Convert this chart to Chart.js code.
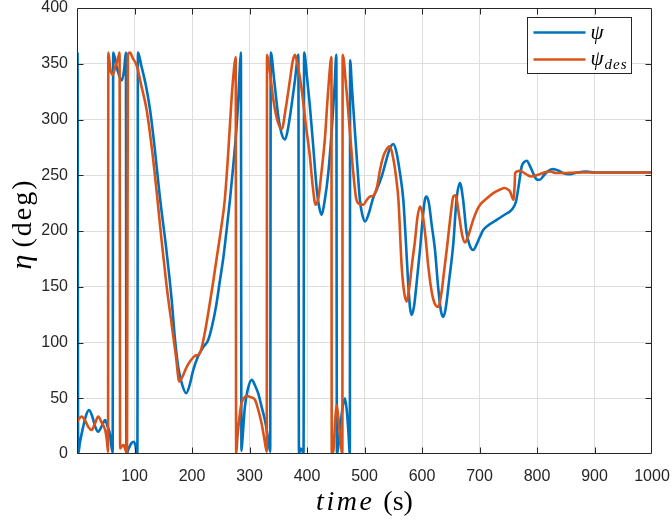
<!DOCTYPE html>
<html>
<head>
<meta charset="utf-8">
<script src="https://cdn.jsdelivr.net/npm/chart.js@4.4.0/dist/chart.umd.min.js"></script>
<style>
html, body { margin: 0; padding: 0; background: #fff; }
</style>
</head>
<body>
<canvas id="myChart" width="672" height="520"></canvas>
<script>
// psi (measured heading), wraps between 0 and 360
const psiTime = [1, 2, 5, 11, 16, 21, 27, 32, 37, 43, 49, 53, 57, 62, 63, 70, 78, 82, 85, 86, 90, 95, 99, 102, 105,
  106, 112, 120, 127, 135, 144, 155, 164.7, 170, 176, 183, 190, 196, 202, 210, 219.7, 228, 235, 242, 248.7, 255, 260, 266, 272, 277, 280.5, 283, 285,
  286, 288, 292, 297, 304, 310, 315, 321, 327, 331, 336,
  337, 343, 350, 356, 361.7, 367, 373, 379, 385,
  386, 389, 392, 394,
  395, 400, 405, 411, 417, 421, 425.5, 431, 437, 443, 448, 451,
  452, 454, 458, 462, 466, 469, 472, 474.5,
  475, 478, 483.5, 488, 492, 496, 501, 507, 515, 522, 530, 536, 541.4, 546, 550, 555, 561.7, 567.5, 572, 576, 579, 582, 586, 591, 596.5,
  601, 605, 608, 612, 617, 622.6, 628, 633, 637, 641, 647, 654.5, 660, 666, 671, 677.7, 683, 689, 695, 701, 706.6, 715, 730, 745, 756,
  763.5, 768, 773.4, 778, 782, 788, 795, 800, 805, 812, 820, 828, 838, 845, 857, 870, 886, 900, 1000];
const psiValues = [360, 0, 10, 25, 35, 39.5, 33, 24, 20, 25, 30.5, 25, 18.5, 1, 360, 345, 335, 345, 360, 0, 5, 10, 11, 7, 0,
  360, 348, 330, 309, 275, 231, 185, 138, 105, 78, 62, 54.5, 62, 75, 87, 96, 102, 115, 133, 156, 178, 200, 228, 260, 290, 318, 345, 360,
  3, 15, 42.5, 58, 66.5, 61, 54.5, 42.5, 30, 18, 2,
  360, 335, 303, 287, 282, 292, 312, 335, 358,
  0, 5, 3, 0,
  360, 338, 312, 275, 237, 222, 214.5, 228, 252, 290, 330, 358,
  0, 5, 25, 42, 50, 40, 20, 0,
  353, 330, 288, 255, 228, 215, 208.5, 215, 229.5, 238, 249, 260, 270, 276, 278, 272, 252, 228, 190, 153, 132, 124.8, 132, 155, 183,
  210, 228, 231, 225, 205, 183, 150, 128, 123, 130, 155, 189, 228, 243, 230, 198, 187, 183, 188, 195, 201, 205, 210, 215, 219,
  226.5, 240, 258, 262, 263, 258, 250, 246, 246, 250, 254, 255.5, 254, 252, 251, 252.5, 253.4, 252.5, 252.5];

// psi_des (desired heading)
const desTime = [0, 4, 8, 14, 20, 25.5, 31, 37, 43, 49, 52, 54,
  54.5, 58, 62, 67, 73, 74,
  75, 78, 81, 84, 87,
  88.5, 92, 97, 104, 112, 121, 130, 138.6, 147, 156, 165, 172, 178, 184, 190.7, 198, 205, 211, 215, 222, 230, 237, 243, 250, 257, 263, 269, 273, 276,
  276.8, 279, 283, 286, 290, 295, 302, 309.6, 315, 321, 326, 330,
  330.5, 335, 341.4, 348, 356, 363, 370.4, 375, 379, 384, 390.8, 398, 405, 410, 415, 420, 425, 431, 436, 441, 442.5,
  443, 446, 449, 451.6, 454, 457, 460, 461.5,
  462, 468, 474.8, 480, 486, 492, 498, 504, 509.6, 515, 522, 527, 532.7, 538, 544, 550, 555, 559, 564.7, 569, 573.4, 578, 583, 588, 592, 596.5,
  601, 606, 611, 617, 622, 628.4, 634, 638, 643, 650, 654.5, 658, 665, 670, 674.8, 680, 689, 695, 701, 712, 724, 735, 744, 750, 753, 757, 759,
  761, 762, 766, 770, 778, 784, 790, 796.5, 805, 815, 822.6, 833, 845.7, 870, 1000];
const desValues = [29, 32, 33.5, 30, 24, 21.5, 27, 33.5, 28, 21.5, 12, 2,
  360, 345, 340, 348, 358, 360,
  5, 7, 8, 4, 0.6,
  358, 360, 355, 348, 330, 309, 275, 235, 192, 150, 115, 88, 65, 70, 78, 84, 88, 89, 92, 108, 132, 155, 176, 200, 228, 270, 320, 345, 356,
  0, 15, 35, 45.5, 50, 52, 51, 48.5, 40, 27.5, 13, 2,
  358, 345, 318, 300, 291.5, 310, 335.7, 352, 358, 348, 326.7, 295, 267, 240, 223.5, 230, 252, 282, 320, 352, 356,
  0, 3.6, 30, 44, 35, 19, 3.6, 0,
  358, 330, 288, 255, 228, 224, 223.5, 228, 231, 231.6, 240, 255, 267, 273, 276, 265, 248, 228, 168, 145, 136.7, 150, 172, 192, 212, 222,
  215, 195, 168, 145, 135, 132, 145, 162, 183, 215, 231, 232, 212, 196, 189.7, 195, 210, 218, 223.5, 229, 234, 237, 238.5, 237, 235.5, 230, 228,
  240, 252, 253.5, 254, 252, 250, 249, 249.5, 251, 253, 253.4, 252, 252, 252.5, 252.5];

const blue = '#0072BD';
const orange = '#D95319';
const axisColor = '#262626';
const serif = "'Liberation Serif', 'DejaVu Serif', serif";

function toPoints(xs, ys) {
  return xs.map((x, i) => ({ x: x, y: ys[i] }));
}

// box with inward ticks on all four sides, like matlab "box on"
const framePlugin = {
  id: 'frame',
  afterDatasetsDraw(chart) {
    const { ctx, chartArea: a, scales } = chart;
    const l = Math.round(a.left) + 0.5, r = Math.round(a.right) - 0.5;
    const t = Math.round(a.top) + 0.5, b = Math.round(a.bottom) - 0.5;
    ctx.save();
    ctx.strokeStyle = axisColor;
    ctx.lineWidth = 1;
    ctx.beginPath();
    ctx.rect(l, t, r - l, b - t);
    for (let v = 100; v < 1000; v += 100) {
      const x = Math.round(scales.x.getPixelForValue(v)) + 0.5;
      ctx.moveTo(x, b); ctx.lineTo(x, b - 6);
      ctx.moveTo(x, t); ctx.lineTo(x, t + 6);
    }
    for (let v = 50; v < 400; v += 50) {
      const y = Math.round(scales.y.getPixelForValue(v)) + 0.5;
      ctx.moveTo(l, y); ctx.lineTo(l + 6, y);
      ctx.moveTo(r, y); ctx.lineTo(r - 6, y);
    }
    ctx.stroke();
    ctx.restore();
  }
};

// axis titles + legend, drawn by hand so the math-style italics and subscript work
const textPlugin = {
  id: 'texts',
  afterDraw(chart) {
    const { ctx, chartArea: a } = chart;
    ctx.save();
    ctx.fillStyle = '#000';
    ctx.textBaseline = 'alphabetic';

    // x title
    ctx.font = 'italic 28px ' + serif;
    ctx.letterSpacing = '2.5px';
    const w1 = ctx.measureText('time').width;
    ctx.font = '28px ' + serif;
    ctx.letterSpacing = '0px';
    const w2 = ctx.measureText('(s)').width;
    const gap = 9;
    let x0 = (a.left + a.right) / 2 - (w1 + gap + w2) / 2;
    ctx.font = 'italic 28px ' + serif;
    ctx.letterSpacing = '2.5px';
    ctx.fillText('time', x0, 510);
    ctx.font = '28px ' + serif;
    ctx.letterSpacing = '0px';
    ctx.fillText('(s)', x0 + w1 + gap, 510);

    // y title
    ctx.save();
    ctx.translate(31, 224);
    ctx.rotate(-Math.PI / 2);
    ctx.font = 'italic 30px ' + serif;
    const e1 = ctx.measureText('η').width;
    ctx.font = '28px ' + serif;
    ctx.letterSpacing = '2px';
    const e2 = ctx.measureText('(deg)').width;
    const g2 = 7;
    const y0 = -(e1 + g2 + e2) / 2;
    ctx.letterSpacing = '0px';
    ctx.font = 'italic 30px ' + serif;
    ctx.fillText('η', y0, 0);
    ctx.font = '28px ' + serif;
    ctx.letterSpacing = '2px';
    ctx.fillText('(deg)', y0 + e1 + g2, 0);
    ctx.restore();
    ctx.letterSpacing = '0px';

    // legend
    const bx = Math.round(a.right) - 124.5, by = Math.round(a.top) + 9.5;
    const bw = 104, bh = 56;
    ctx.fillStyle = '#fff';
    ctx.fillRect(bx, by, bw, bh);
    ctx.strokeStyle = axisColor;
    ctx.lineWidth = 1;
    ctx.strokeRect(bx, by, bw, bh);
    ctx.lineWidth = 2.6;
    ctx.lineCap = 'butt';
    ctx.strokeStyle = blue;
    ctx.beginPath(); ctx.moveTo(bx + 6, by + 15); ctx.lineTo(bx + 58, by + 15); ctx.stroke();
    ctx.strokeStyle = orange;
    ctx.beginPath(); ctx.moveTo(bx + 6, by + 42); ctx.lineTo(bx + 58, by + 42); ctx.stroke();
    ctx.fillStyle = '#000';
    ctx.font = 'italic 21px ' + serif;
    ctx.fillText('ψ', bx + 63, by + 21);
    ctx.fillText('ψ', bx + 63, by + 47);
    const pw = ctx.measureText('ψ').width;
    ctx.font = 'italic 15px ' + serif;
    ctx.letterSpacing = '1px';
    ctx.fillText('des', bx + 63 + pw + 1, by + 51);
    ctx.restore();
  }
};

const tickFont = { family: "'Liberation Sans', Arial, Helvetica, sans-serif", size: 16 };

const ctx = document.getElementById('myChart');
const myChart = new Chart(ctx, {
  type: 'line',
  data: {
    datasets: [{
      label: 'ψ',
      data: toPoints(psiTime, psiValues),
      borderColor: blue,
      borderWidth: 2.6,
      pointRadius: 0,
      cubicInterpolationMode: 'monotone',
      borderJoinStyle: 'round',
      order: 1
    }, {
      label: 'ψdes',
      data: toPoints(desTime, desValues),
      borderColor: orange,
      borderWidth: 2.6,
      pointRadius: 0,
      cubicInterpolationMode: 'monotone',
      borderJoinStyle: 'round',
      order: 0
    }]
  },
  options: {
    responsive: false,
    animation: false,
    devicePixelRatio: 1,
    layout: { padding: { top: 8, right: 20, left: 0, bottom: 0 } },
    plugins: { legend: { display: false }, tooltip: { enabled: false } },
    scales: {
      x: {
        type: 'linear',
        min: 0,
        max: 1000,
        afterFit: s => { s.height = 66; s.paddingLeft = 0; s.paddingRight = 0; },
        border: { display: false },
        grid: {
          drawTicks: false,
          color: c => (c.tick && (c.tick.value === 0 || c.tick.value === 1000)) ? 'rgba(0,0,0,0)' : '#dedede'
        },
        ticks: {
          stepSize: 100,
          padding: 13,
          color: axisColor,
          font: tickFont,
          maxRotation: 0,
          callback: v => v === 0 ? '' : v
        }
      },
      y: {
        min: 0,
        max: 400,
        afterFit: s => { s.width = 77; s.paddingTop = 0; s.paddingBottom = 0; },
        border: { display: false },
        grid: {
          drawTicks: false,
          color: c => (c.tick && (c.tick.value === 0 || c.tick.value === 400)) ? 'rgba(0,0,0,0)' : '#dedede'
        },
        ticks: {
          stepSize: 50,
          padding: 9,
          color: axisColor,
          font: tickFont
        }
      }
    }
  },
  plugins: [framePlugin, textPlugin]
});
</script>
</body>
</html>
